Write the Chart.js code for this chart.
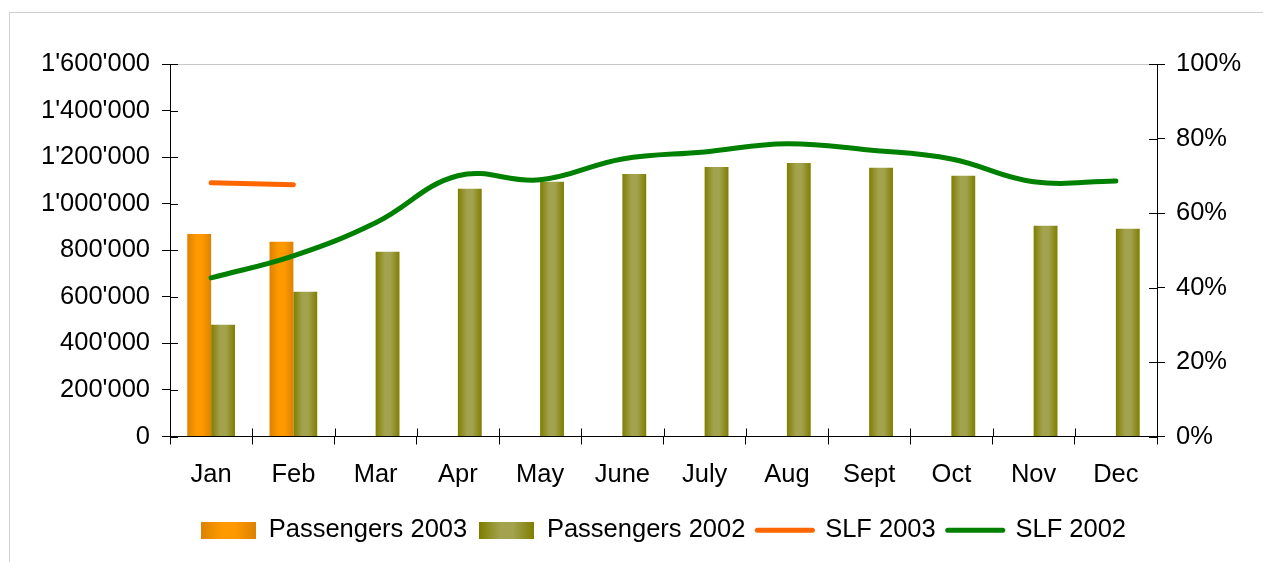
<!DOCTYPE html>
<html>
<head>
<meta charset="utf-8">
<script src="https://cdn.jsdelivr.net/npm/chart.js@4.4.1/dist/chart.umd.min.js"></script>
<style>
  html, body { margin: 0; padding: 0; background: #fff; overflow: hidden; }
  #frame {
    position: absolute; left: 9px; top: 12px; width: 1300px; height: 600px;
    border: 1px solid #cfcfcf;
  }
  #wrap { position: absolute; left: 0; top: 0; width: 1263px; height: 562px; }
</style>
</head>
<body>
<div id="frame"></div>
<div id="wrap"><canvas id="chart" width="1263" height="562"></canvas></div>
<script>
const months = ["Jan", "Feb", "Mar", "Apr", "May", "June", "July", "Aug", "Sept", "Oct", "Nov", "Dec"];
const passengers2003 = [870000, 836000, null, null, null, null, null, null, null, null, null, null];
const passengers2002 = [480000, 622000, 794000, 1064000, 1094000, 1128000, 1158000, 1175000, 1154000, 1120000, 905000, 892000];
const slf2003 = [68.1, 67.6, null, null, null, null, null, null, null, null, null, null];
const slf2002 = [42.6, 48.5, 57.4, 70.0, 68.9, 74.5, 76.4, 78.6, 76.9, 74.5, 68.4, 68.6];

const CAT_PCT = 0.58;
const FONT = "'Liberation Sans', Arial, sans-serif";
const FSIZE = 25.5;

const ORANGE = ["#dc8200", "#ff9900"];
const OLIVE = ["#7e7e00", "#a3a24e"];

function addStops(g, colors) {
  g.addColorStop(0, colors[0]);
  g.addColorStop(0.38, colors[1]);
  g.addColorStop(0.62, colors[1]);
  g.addColorStop(1, colors[0]);
  return g;
}

// horizontal gradient across each bar, computed from the x scale
function barFill(colors) {
  return (ctx) => {
    const chart = ctx.chart;
    const xs = chart.scales.x;
    if (!chart.chartArea || !xs || ctx.dataIndex === undefined) return colors[1];
    const slot = (xs.width / months.length) * CAT_PCT / 2;
    const center = xs.getPixelForValue(ctx.dataIndex) + (ctx.datasetIndex === 0 ? -slot / 2 : slot / 2);
    const g = chart.ctx.createLinearGradient(center - slot / 2, 0, center + slot / 2, 0);
    return addStops(g, colors);
  };
}

function legendSwatch(colors) {
  const c = document.createElement("canvas");
  c.width = 55;
  c.height = 17;
  const cx = c.getContext("2d");
  cx.fillStyle = addStops(cx.createLinearGradient(0, 0, 55, 0), colors);
  cx.fillRect(0, 0, 55, 17);
  return c;
}
const swatches = [legendSwatch(ORANGE), legendSwatch(OLIVE)];

const fmt = (v) => v.toString().replace(/\B(?=(\d{3})+(?!\d))/g, "'");

// ticks cross the axis lines: draw the inner half
const innerTicks = {
  id: "innerTicks",
  afterDraw(chart) {
    const { ctx, chartArea, scales } = chart;
    ctx.save();
    ctx.strokeStyle = "#000";
    ctx.lineWidth = 1;
    ctx.beginPath();
    scales.y.ticks.forEach((t, i) => {
      const y = Math.round(scales.y.getPixelForTick(i)) + 0.5;
      ctx.moveTo(chartArea.left, y);
      ctx.lineTo(chartArea.left + 8, y);
    });
    scales.y2.ticks.forEach((t, i) => {
      const y = Math.round(scales.y2.getPixelForTick(i)) + 0.5;
      ctx.moveTo(chartArea.right - 8, y);
      ctx.lineTo(chartArea.right, y);
    });
    const w = scales.x.width / months.length;
    for (let i = 0; i <= months.length; i++) {
      const x = Math.round(chartArea.left + i * w) + 0.5;
      ctx.moveTo(x, chartArea.bottom - 8);
      ctx.lineTo(x, chartArea.bottom);
    }
    ctx.stroke();
    ctx.restore();
  },
};

new Chart(document.getElementById("chart"), {
  type: "bar",
  data: {
    labels: months,
    datasets: [
      { label: "Passengers 2003", data: passengers2003, backgroundColor: barFill(ORANGE), yAxisID: "y", order: 1 },
      { label: "Passengers 2002", data: passengers2002, backgroundColor: barFill(OLIVE), yAxisID: "y", order: 1 },
      {
        label: "SLF 2003", type: "line", data: slf2003, yAxisID: "y2", order: 0,
        borderColor: "#ff6600", backgroundColor: "#ff6600", borderWidth: 5,
        borderCapStyle: "round", pointRadius: 0, tension: 0.4, spanGaps: false,
      },
      {
        label: "SLF 2002", type: "line", data: slf2002, yAxisID: "y2", order: 0,
        borderColor: "#008000", backgroundColor: "#008000", borderWidth: 5,
        borderCapStyle: "round", pointRadius: 0, tension: 0.4,
      },
    ],
  },
  options: {
    responsive: false,
    animation: false,
    events: [],
    datasets: { bar: { categoryPercentage: CAT_PCT, barPercentage: 1 } },
    layout: { padding: { top: 64, left: 0, right: 0, bottom: 9 } },
    plugins: {
      tooltip: { enabled: false },
      legend: {
        position: "bottom",
        fullSize: false,
        labels: {
          font: { family: FONT, size: FSIZE },
          color: "#000",
          usePointStyle: true,
          pointStyleWidth: 55,
          boxHeight: 17,
          padding: 12,
          sort: (a, b) => a.datasetIndex - b.datasetIndex,
          generateLabels(chart) {
            return chart.data.datasets.map((ds, i) => {
              const isBar = i < 2;
              return {
                text: ds.label,
                datasetIndex: i,
                fillStyle: isBar ? "#fff" : ds.borderColor,
                strokeStyle: ds.borderColor,
                lineWidth: isBar ? 0 : 5,
                lineCap: "round",
                pointStyle: isBar ? swatches[i] : "line",
                hidden: false,
                fontColor: "#000",
              };
            });
          },
        },
      },
    },
    scales: {
      x: {
        afterFit: (s) => { s.height = 69; },
        grid: { offset: true, drawOnChartArea: false, tickLength: 8, tickColor: "#000" },
        border: { color: "#000", width: 1 },
        ticks: { font: { family: FONT, size: FSIZE }, color: "#000", padding: 15, maxRotation: 0, autoSkip: false },
      },
      y: {
        position: "left",
        min: 0,
        max: 1600000,
        afterFit: (s) => { s.width = 170; },
        grid: {
          drawOnChartArea: true,
          color: (c) => (c.tick && c.tick.value === 1600000 ? "#c8c8c8" : "rgba(0,0,0,0)"),
          tickColor: "#000",
          tickLength: 8,
        },
        border: { color: "#000", width: 1 },
        ticks: { stepSize: 200000, callback: fmt, font: { family: FONT, size: FSIZE }, color: "#000", padding: 12 },
      },
      y2: {
        position: "right",
        min: 0,
        max: 100,
        afterFit: (s) => { s.width = 106; },
        grid: { drawOnChartArea: false, tickColor: "#000", tickLength: 8 },
        border: { color: "#000", width: 1 },
        ticks: { stepSize: 20, callback: (v) => v + "%", font: { family: FONT, size: FSIZE }, color: "#000", padding: 11 },
      },
    },
  },
  plugins: [innerTicks],
});
</script>
</body>
</html>
